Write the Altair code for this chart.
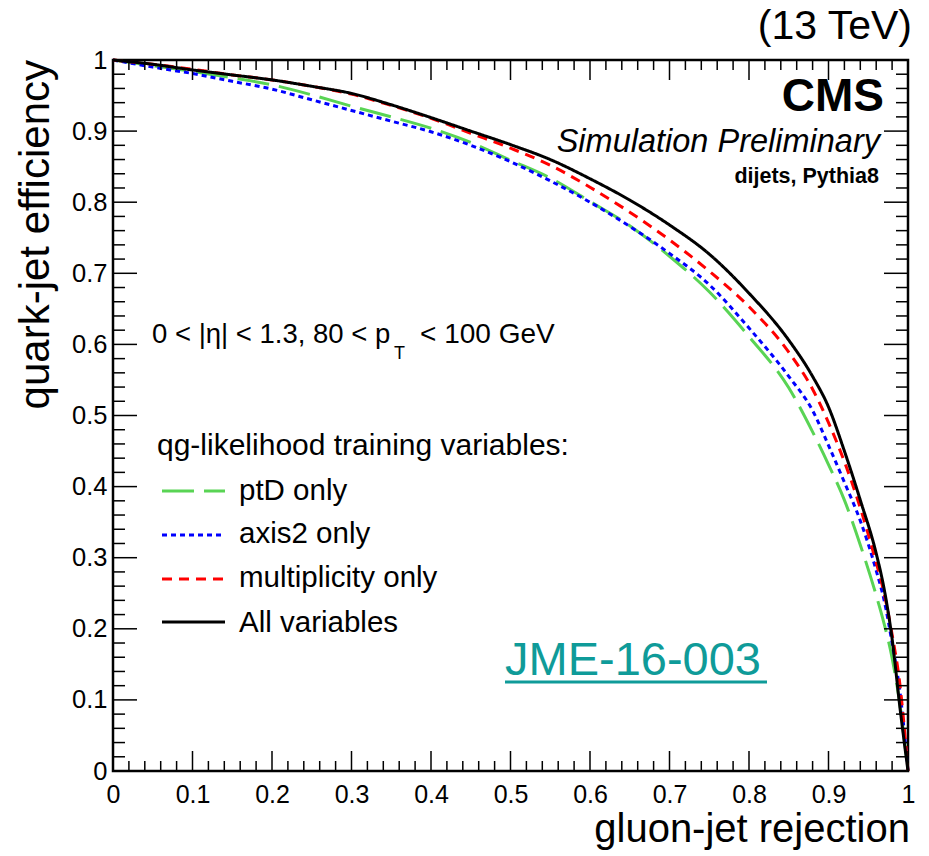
import altair as alt
import pandas as pd

FONT = "Liberation Sans"

# ---------------- data ----------------
rejection = [0.0, 0.05, 0.1, 0.15, 0.2, 0.25, 0.3, 0.35, 0.4, 0.45, 0.5, 0.55, 0.6, 0.65,
             0.7, 0.75, 0.8, 0.85, 0.88, 0.9, 0.92, 0.94, 0.96, 0.97, 0.98, 0.99, 1.0]
eff_ptd = [1.0, 0.992, 0.984, 0.975, 0.965, 0.951, 0.935, 0.920, 0.904, 0.884, 0.859, 0.834,
           0.801, 0.767, 0.724, 0.674, 0.611, 0.539, 0.477, 0.431, 0.381, 0.318, 0.247, 0.207,
           0.159, 0.092, 0.0]
eff_axis2 = [1.0, 0.990, 0.981, 0.970, 0.959, 0.944, 0.929, 0.914, 0.899, 0.880, 0.857, 0.830,
             0.800, 0.766, 0.728, 0.684, 0.623, 0.555, 0.507, 0.458, 0.406, 0.352, 0.282, 0.240,
             0.180, 0.110, 0.0]
eff_mult = [1.0, 0.994, 0.987, 0.979, 0.972, 0.963, 0.952, 0.936, 0.918, 0.897, 0.876, 0.852,
            0.821, 0.786, 0.747, 0.703, 0.653, 0.589, 0.537, 0.490, 0.435, 0.370, 0.293, 0.250,
            0.192, 0.120, 0.0]
eff_all = [1.0, 0.994, 0.986, 0.979, 0.972, 0.963, 0.953, 0.937, 0.919, 0.900, 0.881, 0.860,
           0.833, 0.803, 0.768, 0.727, 0.672, 0.606, 0.555, 0.512, 0.450, 0.381, 0.306, 0.256,
           0.186, 0.088, 0.0]

series_names = ["ptD only", "axis2 only", "multiplicity only", "All variables"]
series_values = [eff_ptd, eff_axis2, eff_mult, eff_all]
series_colors = ["#59d454", "#0000ff", "#ff0000", "#000000"]
series_dash = [[32, 10], [5, 4], [10, 7], [1, 0]]

major_ticks = [0.0, 0.1, 0.2, 0.3, 0.4, 0.5, 0.6, 0.7, 0.8, 0.9, 1.0]
minor_ticks = [round(i * 0.02, 2) for i in range(51) if i % 5 != 0]

# ---------------- layout ----------------
W, H = 795, 711
PAD = {"left": 113, "top": 60, "right": 21, "bottom": 85}

rows = []
for name, vals in zip(series_names, series_values):
    for xv, yv in zip(rejection, vals):
        rows.append({"series": name, "rej": xv, "eff": yv})
df = pd.DataFrame(rows)
df_major = pd.DataFrame({"v": major_ticks})
df_minor = pd.DataFrame({"v": minor_ticks})
one = pd.DataFrame({"a": [0]})

xs = alt.Scale(domain=[0, 1], nice=False, zero=False)
ys = alt.Scale(domain=[0, 1], nice=False, zero=False)

lab_expr = "datum.value == 0 ? '0' : (datum.value == 1 ? '1' : format(datum.value, '.1f'))"
x_axis = alt.Axis(values=major_ticks, labelExpr=lab_expr, ticks=False, tickSize=0, domain=False,
                  grid=False, labelFontSize=25, labelFont=FONT, labelColor="black",
                  labelPadding=11, labelFlush=False, labelOverlap=False, title=None)
y_axis = alt.Axis(values=major_ticks, labelExpr=lab_expr, ticks=False, tickSize=0, domain=False,
                  grid=False, labelFontSize=25.5, labelFont=FONT, labelColor="black",
                  labelPadding=6, labelFlush=False, labelOverlap=False, title=None)

layers = []
for i, (name, col, dash) in enumerate(zip(series_names, series_colors, series_dash)):
    layers.append(
        alt.Chart(df).transform_filter(alt.datum.series == name)
        .mark_line(color=col, strokeDash=dash, strokeWidth=3, interpolate="monotone")
        .encode(x=alt.X("rej:Q", scale=xs, axis=x_axis),
                y=alt.Y("eff:Q", scale=ys, axis=y_axis),
                order="rej:Q")
    )

# inward ticks on all four sides (ROOT style)
def xticks(d, length):
    b = alt.Chart(d).mark_rule(color="black", strokeWidth=1.5).encode(
        x=alt.X("v:Q", scale=xs, axis=x_axis), y=alt.value(H), y2=alt.value(H - length))
    t = alt.Chart(d).mark_rule(color="black", strokeWidth=1.5).encode(
        x=alt.X("v:Q", scale=xs, axis=x_axis), y=alt.value(0), y2=alt.value(length))
    return [b, t]

def yticks(d, length):
    l = alt.Chart(d).mark_rule(color="black", strokeWidth=1.5).encode(
        y=alt.Y("v:Q", scale=ys, axis=y_axis), x=alt.value(0), x2=alt.value(length))
    r = alt.Chart(d).mark_rule(color="black", strokeWidth=1.5).encode(
        y=alt.Y("v:Q", scale=ys, axis=y_axis), x=alt.value(W), x2=alt.value(W - length))
    return [l, r]

layers += xticks(df_major, 20) + xticks(df_minor, 10) + yticks(df_major, 24) + yticks(df_minor, 12)


def txt(s, x, y, size, align="left", weight="normal", style="normal", color="black",
        angle=0, baseline="alphabetic"):
    return alt.Chart(one).mark_text(
        text=s, align=align, baseline=baseline, fontSize=size, font=FONT,
        fontWeight=weight, fontStyle=style, color=color, angle=angle
    ).encode(x=alt.value(x), y=alt.value(y))

ox, oy = PAD["left"], PAD["top"]
# titles
layers.append(txt("gluon-jet rejection", 910 - ox, 842 - oy, 40, align="right"))
layers.append(txt("quark-jet efficiency", 49 - ox, 60 - oy, 42, align="right", angle=270))
layers.append(txt("(13 TeV)", 912 - ox, 39 - oy, 41, align="right"))
layers.append(txt("CMS", 884 - ox, 111 - oy, 46, align="right", weight="bold"))
layers.append(txt("Simulation Preliminary", 880 - ox, 152 - oy, 32.5, align="right", style="italic"))
layers.append(txt("dijets, Pythia8", 879 - ox, 183 - oy, 21.5, align="right", weight="bold"))
# kinematic selection
layers.append(txt("0 < |η| < 1.3, 80 < p", 152 - ox, 343 - oy, 27.5))
layers.append(txt("T", 394 - ox, 359 - oy, 18))
layers.append(txt("< 100 GeV", 420 - ox, 343 - oy, 28))
# legend
layers.append(txt("qg-likelihood training variables:", 157 - ox, 455 - oy, 30))
leg_line_y = [491, 535, 579, 622]
leg_text_y = [500, 543, 587, 632]
for name, col, dash, ly, ty in zip(series_names, series_colors, series_dash, leg_line_y, leg_text_y):
    layers.append(
        alt.Chart(one).mark_rule(color=col, strokeDash=dash, strokeWidth=3).encode(
            x=alt.value(162 - ox), x2=alt.value(225 - ox), y=alt.value(ly - oy))
    )
    layers.append(txt(name, 239 - ox, ty - oy, 29.5))
# JME link
TEAL = "#0f9b99"
layers.append(txt("JME-16-003", 505 - ox, 675 - oy, 47, color=TEAL))
layers.append(
    alt.Chart(one).mark_rule(color=TEAL, strokeWidth=3).encode(
        x=alt.value(505 - ox), x2=alt.value(767 - ox), y=alt.value(682 - oy))
)

chart = alt.layer(*layers).properties(
    width=W, height=H, padding=PAD, autosize=alt.AutoSizeParams(type="none"),
    background="white"
).configure_view(stroke="black", strokeWidth=2.5)

chart.save("out.html", embed_options={"renderer": "svg", "actions": False})
